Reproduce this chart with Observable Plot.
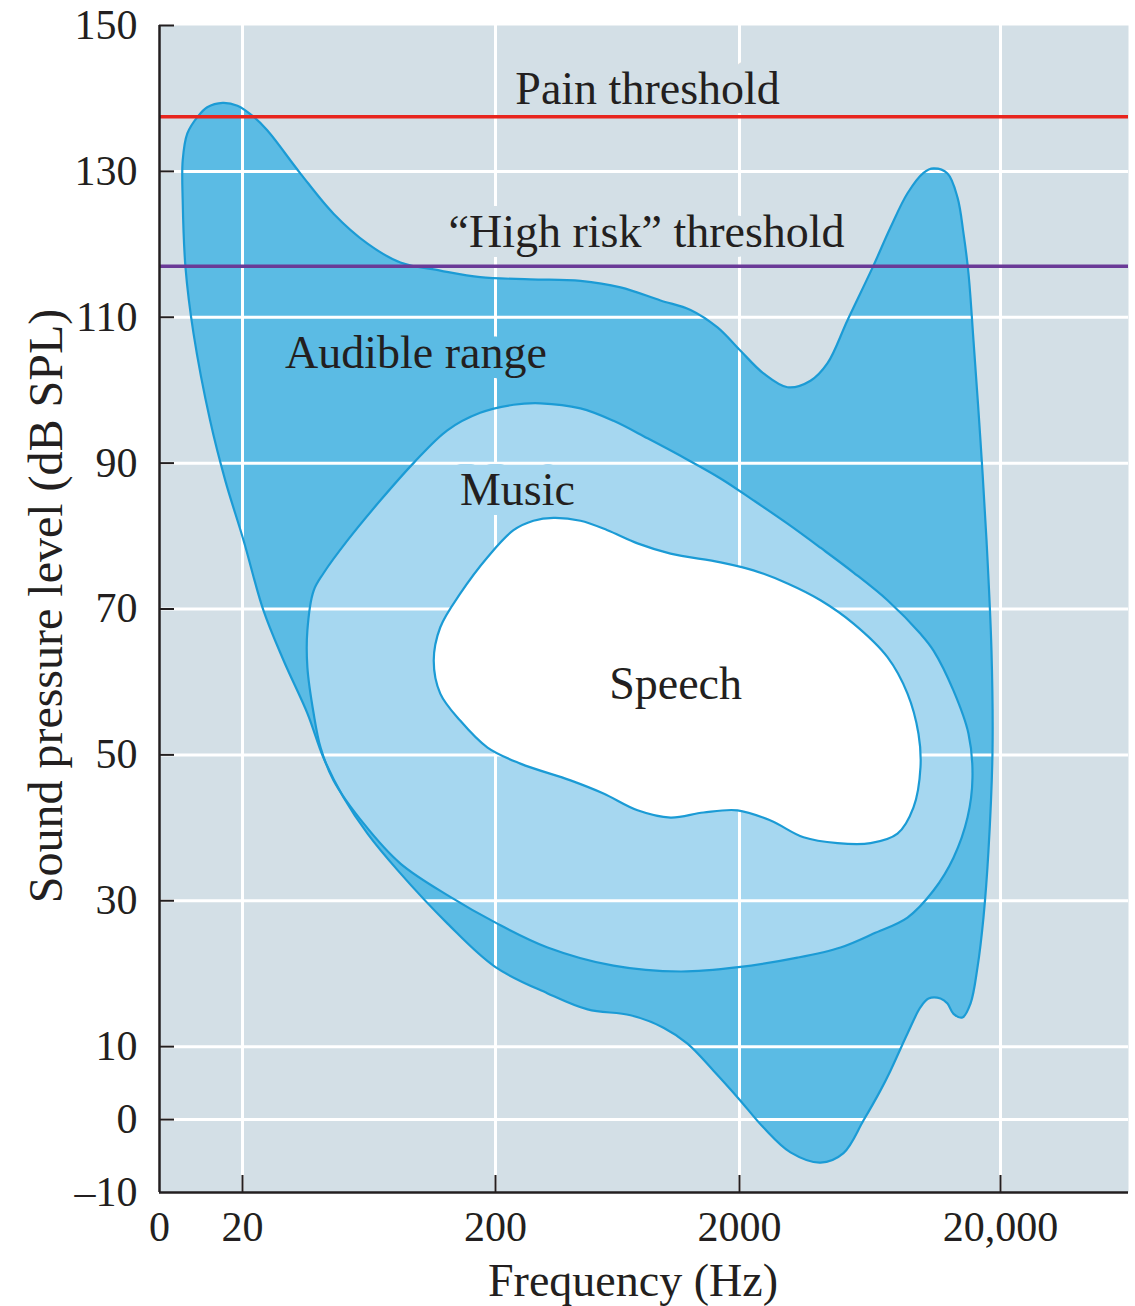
<!DOCTYPE html>
<html>
<head>
<meta charset="utf-8">
<script src="https://cdn.jsdelivr.net/npm/d3@7"></script>
<script src="https://cdn.jsdelivr.net/npm/@observablehq/plot@0.6"></script>
<style>
  html, body { margin: 0; padding: 0; background: #fff; }
</style>
</head>
<body>
<div id="chart"></div>
<script>
// ---------- data (frequency in Hz, level in dB SPL) ----------
const freqOrigin = 9.39;              // left edge of the axis, labelled "0"
const xTicks = [freqOrigin, 20, 200, 2000, 20000];
const xTickLabels = ["0", "20", "200", "2000", "20,000"];
const xGrid = [20, 200, 2000, 20000];
const yTicks = [150, 130, 110, 90, 70, 50, 30, 10, 0, -10];
const yTickLabels = ["150", "130", "110", "90", "70", "50", "30", "10", "0", "\u201310"];
const yGrid = [130, 110, 90, 70, 50, 30, 10, 0];

const painThreshold = 137.5;
const highRiskThreshold = 117;

const audible = [
  [11.6,126.0],[11.6,131.5],[12.1,135.2],[13.3,137.5],[14.5,138.8],[16.7,139.4],[19.1,139.0],
  [22.1,137.5],[25.1,135.6],[33.9,129.7],[45.8,124.2],[62.4,120.1],[84.2,117.5],
  [121,116.4],[174,115.5],[278,115.2],[446,115.0],[651,114.1],[949,112.3],[1260,111.0],
  [1625,108.6],[2018,105.4],[2472,102.3],[3055,100.4],[3742,101.3],[4348,103.7],[5186,109.6],
  [6467,116.8],[7577,122.3],[8805,127.0],[10140,129.8],[11075,130.4],[12530,129.7],[13690,126.4],
  [14430,121.5],[15080,116.0],[15760,106.8],[16760,93.1],[17680,79.4],[18470,64.3],[18640,50.6],
  [17990,36.9],[17210,27.7],[16330,20.9],[15350,15.9],[14300,14.0],[13210,14.5],[12530,15.9],
  [11780,16.6],[10600,16.6],[9873,15.4],[8805,11.8],[7577,6.7],[6938,4.0],[5975,-0.1],
  [5006,-4.6],[4087,-5.9],[3136,-4.5],[2472,-1.1],[1981,2.9],[1565,6.7],[1224,10.4],[976,12.6],
  [715,14.3],[477,15.1],[327,17.3],[200,20.9],[129,26.9],[82,34.2],[62.4,39.2],
  [50.1,44.2],[41.8,49.6],[36.1,55.7],[29.1,62.9],[24.2,69.8],[20.2,79.4],[17.1,87.6],
  [14.9,95.8],[12.8,107.8],[11.9,116.8]
];

const music = [
  [36.1,62.0],[36.1,67.1],[38.2,72.5],[41.8,74.9],[52.0,79.4],[70.2,84.9],[94.8,90.0],
  [129,94.5],[174,96.9],[237,98.0],[306,98.2],[446,97.5],[609,95.8],[840,93.4],[1146,91.0],
  [1672,87.9],[2262,84.9],[3055,81.7],[4087,78.4],[5468,75.0],[7379,71.2],[9873,66.6],[11075,64.3],
  [13210,58.8],[15080,52.9],[15620,46.9],[14950,41.4],[13210,35.9],[11075,31.4],[8805,27.7],
  [6524,25.5],[4876,23.6],[3336,22.2],[1981,20.9],[1146,20.3],[609,21.1],[327,23.6],[200,27.0],
  [133,30.5],[84.2,35.1],[60.2,40.6],[45.8,46.5],[40.7,51.0],[38.2,55.7]
];

const speech = [
  [346,82.5],[446,82.1],[575,80.8],[764,79.0],[1043,77.6],[1672,76.4],[2262,75.3],[3055,73.5],
  [4087,71.2],[5468,68.0],[7379,63.4],[8805,58.4],[9700,52.9],[9873,48.3],[9283,42.8],
  [8060,39.2],[6354,37.9],[4749,37.9],[3518,38.7],[2630,41.0],[1963,42.4],[1424,42.1],
  [1043,41.4],[764,42.4],[554,44.7],[406,46.5],[253,48.8],[186,51.0],[145,54.7],[121,58.4],
  [114,62.9],[121,67.5],[145,72.1],[186,77.1],[237,80.8],[286,82.1]
];

const labels = [
  {text: "Pain threshold", freq: 840, db: 139.3, region: "background"},
  {text: "\u201CHigh risk\u201D threshold", freq: 832, db: 119.6, region: "background"},
  {text: "Audible range", freq: 97, db: 103.1, region: "audible"},
  {text: "Music", freq: 246, db: 84.2, region: "music"},
  {text: "Speech", freq: 1094, db: 57.7, region: "speech"}
];

// ---------- styles ----------
const ink = "#231f20";
const bgColor = "#d3dfe6";
const audibleFill = "#5bbbe4";
const musicFill = "#a6d7f0";
const speechFill = "#ffffff";
const outline = "#1b9bd5";
const regionColor = {background: bgColor, audible: audibleFill, music: musicFill, speech: speechFill};

// piecewise log calibration of the horizontal axis
const xScaleDomain = [freqOrigin, 20, 200, 2000, 20000, 61900];
const xScaleRange = [159, 242, 495, 739, 1000, 1128];

const fx = d => d[0], fy = d => d[1];
const shape = (data, opts) => Plot.line(data, {x: fx, y: fy, curve: "catmull-rom-closed", ...opts});

const chart = Plot.plot({
  width: 1135,
  height: 1306,
  marginLeft: 159,
  marginRight: 7,
  marginTop: 25,
  marginBottom: 114,
  style: {fontFamily: "'Liberation Serif', 'Times New Roman', serif", fontSize: "42px", color: ink, background: "#fff", overflow: "visible"},
  x: {type: "log", domain: xScaleDomain, range: xScaleRange, axis: null},
  y: {domain: [-10, 150], axis: null},
  marks: [
    Plot.frame({fill: bgColor, stroke: "none"}),
    shape(audible, {fill: audibleFill, stroke: "none"}),
    shape(music, {fill: musicFill, stroke: "none"}),
    shape(speech, {fill: speechFill, stroke: "none"}),
    Plot.ruleX(xGrid, {stroke: "#ffffff", strokeWidth: 3}),
    Plot.ruleY(yGrid, {stroke: "#ffffff", strokeWidth: 3}),
    Plot.text(labels, {
      x: "freq", y: "db", text: "text",
      lineAnchor: "bottom", fontSize: 46, fill: ink,
      stroke: d => regionColor[d.region], strokeWidth: 20, strokeLinejoin: "round"
    }),
    shape(audible, {fill: "none", stroke: outline, strokeWidth: 2.2}),
    shape(music, {fill: "none", stroke: outline, strokeWidth: 2.2}),
    shape(speech, {fill: "none", stroke: outline, strokeWidth: 2.2}),
    Plot.ruleY([painThreshold], {stroke: "#e8251e", strokeWidth: 3.5}),
    Plot.ruleY([highRiskThreshold], {stroke: "#6a3a97", strokeWidth: 3.5}),
    // axes
    Plot.ruleX(xGrid, {stroke: ink, strokeWidth: 2, insetTop: 1150}),
    Plot.ruleY(yTicks.filter(d => d > -10), {stroke: ink, strokeWidth: 2, insetRight: 954}),
    Plot.ruleX([freqOrigin], {stroke: ink, strokeWidth: 2.5}),
    Plot.ruleY([-10], {stroke: ink, strokeWidth: 2.5}),
    Plot.text(yTicks, {
      x: () => freqOrigin, y: d => d, text: (d, i) => yTickLabels[i],
      textAnchor: "end", dx: -22, fontSize: 42, fill: ink
    }),
    Plot.text(xTicks, {
      x: d => d, y: () => -10, text: (d, i) => xTickLabels[i],
      lineAnchor: "top", dy: 19, fontSize: 42, fill: ink
    }),
    Plot.text(["Frequency (Hz)"], {
      frameAnchor: "bottom", textAnchor: "middle", dy: 103, dx: -11, lineAnchor: "bottom", fontSize: 46, fill: ink
    }),
    Plot.text(["Sound pressure level (dB SPL)"], {
      frameAnchor: "left", textAnchor: "middle", dx: -98, dy: -3, rotate: -90, lineAnchor: "bottom", fontSize: 48, fill: ink
    })
  ]
});

document.getElementById("chart").appendChild(chart);
</script>
</body>
</html>
